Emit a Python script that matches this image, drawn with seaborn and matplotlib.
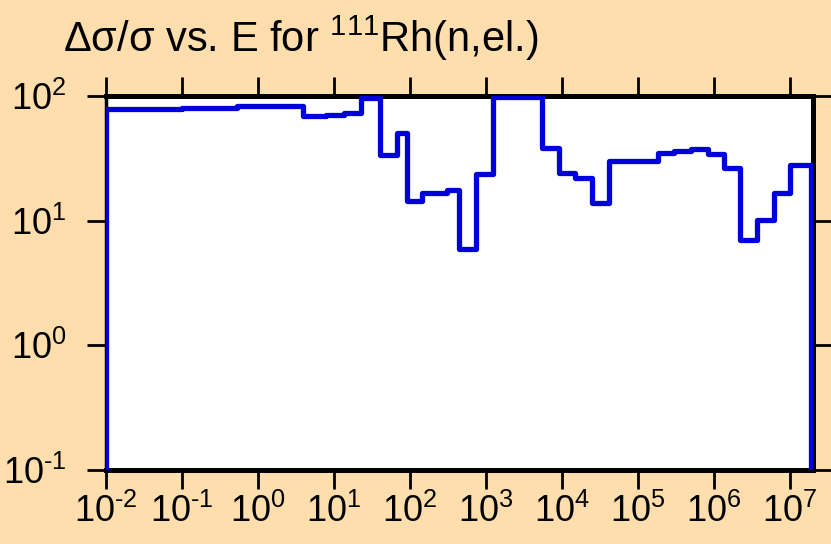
import matplotlib
matplotlib.use('Agg')
import matplotlib.pyplot as plt
import seaborn as sns
import pandas as pd

# group boundaries (eV) and relative uncertainty (%)
edges = [1e-2, 1e-1, 0.53, 4.0, 8.0, 13.7, 23, 40.5, 67, 91, 147, 305, 448, 743,
         1232, 5440, 9200, 14900, 24800, 41000, 67000, 111000, 181000, 300000,
         498000, 826000, 1.37e6, 2.22e6, 3.68e6, 6.1e6, 1.0e7, 1.9e7]
levels = [78.5, 79.5, 83, 69, 70.7, 72.5, 96, 33.5, 50.4, 14.4, 16.6, 17.7, 5.9, 23.7,
          98, 38.4, 24.2, 21.9, 13.9, 29.9, 30.0, 30.2, 34.8, 36.1, 37.6, 34.5,
          26.5, 7.0, 10.2, 16.8, 27.9]
floor_val = 0.1

x_ticks = [1e-2, 1e-1, 1e0, 1e1, 1e2, 1e3, 1e4, 1e5, 1e6, 1e7]
x_tick_labels = [r'$10^{\text{-}2}$', r'$10^{\text{-}1}$', '$10^{0}$', '$10^{1}$', '$10^{2}$',
                 '$10^{3}$', '$10^{4}$', '$10^{5}$', '$10^{6}$', '$10^{7}$']
y_ticks = [1e-1, 1e0, 1e1, 1e2]
y_tick_labels = [r'$10^{\text{-}1}$', '$10^{0}$', '$10^{1}$', '$10^{2}$']

title = 'Δσ/σ vs. E for $^{111}$Rh(n,el.)'

# step outline: up from the floor, across the groups, back down to the floor
df = pd.DataFrame({
    'E': [edges[0]] + edges,
    'unc': [floor_val] + levels + [floor_val],
})

sns.set_style('ticks')
plt.rcParams['font.family'] = ['Liberation Sans', 'DejaVu Sans']
plt.rcParams['mathtext.fontset'] = 'custom'
plt.rcParams['mathtext.rm'] = 'Liberation Sans'
plt.rcParams['mathtext.it'] = 'Liberation Sans'
plt.rcParams['axes.unicode_minus'] = False
plt.rcParams['text.color'] = 'black'
plt.rcParams['xtick.color'] = 'black'
plt.rcParams['ytick.color'] = 'black'

bg = '#FDDEAC'
fig = plt.figure(figsize=(8.31, 5.44), dpi=100, facecolor=bg)
ax = fig.add_axes([105.5 / 831, 1 - 470 / 544, (813 - 105.5) / 831, (470 - 96) / 544])
ax.set_facecolor('white')

sns.lineplot(data=df, x='E', y='unc', estimator=None, sort=False, ax=ax,
             drawstyle='steps-post', color='#0000DC', linewidth=3.8, zorder=3)

ax.set_xscale('log')
ax.set_yscale('log')
ax.set_xlim(1e-2, 2e7)
ax.set_ylim(1e-1, 1e2)
ax.set_xticks(x_ticks)
ax.set_xticklabels(x_tick_labels)
ax.set_yticks(y_ticks)
ax.set_yticklabels(y_tick_labels)
ax.minorticks_off()
ax.set_xlabel('')
ax.set_ylabel('')

ax.tick_params(which='major', direction='out', length=14, width=2,
               top=True, right=True, labelsize=26, color='black', labelcolor='black')
ax.tick_params(axis='x', pad=3)
ax.tick_params(axis='y', pad=14)

for side in ['top', 'bottom', 'right']:
    ax.spines[side].set_linewidth(3.6)
ax.spines['left'].set_linewidth(2.5)
for s in ax.spines.values():
    s.set_color('black')

fig.text(63 / 831, 1 - 52 / 544, title, fontsize=30, ha='left', va='baseline', color='black')

plt.savefig('out.png', dpi=100, facecolor=bg)
